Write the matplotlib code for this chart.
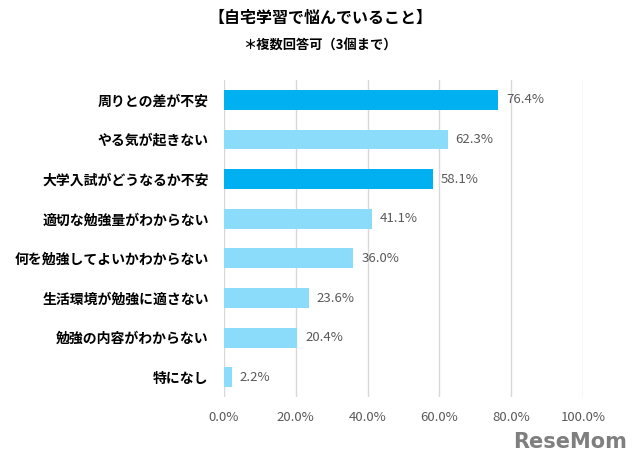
import matplotlib.pyplot as plt

plt.rcParams['font.family'] = ['Noto Sans CJK JP', 'DejaVu Sans']

categories = ['周りとの差が不安', 'やる気が起きない', '大学入試がどうなるか不安',
              '適切な勉強量がわからない', '何を勉強してよいかわからない',
              '生活環境が勉強に適さない', '勉強の内容がわからない', '特になし']
values = [76.4, 62.3, 58.1, 41.1, 36.0, 23.6, 20.4, 2.2]
highlight = [True, False, True, False, False, False, False, False]
xticks = [0, 20, 40, 60, 80, 100]

dark = '#00B0F0'
light = '#8ADCFA'

fig = plt.figure(figsize=(6.4, 4.65), dpi=100)
ax = fig.add_axes([0.35, 0.146, 0.561, 0.682])

ypos = list(range(len(categories)))
colors = [dark if h else light for h in highlight]
ax.barh(ypos, values, height=0.5, color=colors, zorder=3)
for y, v in zip(ypos, values):
    ax.text(v + 2.2, y, f'{v:.1f}%', va='center', ha='left', fontsize=9.5, color='#595959')

ax.set_xlim(0, 100)
ax.set_ylim(len(categories) - 0.5, -0.5)
ax.set_xticks(xticks)
ax.set_xticklabels([f'{t:.1f}%' for t in xticks], fontsize=9.5, color='#595959')
ax.set_yticks(ypos)
ax.set_yticklabels(categories, fontsize=10, fontweight='bold', color='#000000')
ax.tick_params(axis='both', length=0)
ax.tick_params(axis='x', pad=10)
ax.tick_params(axis='y', pad=11)
ax.grid(axis='x', color='#D9D9D9', linewidth=1, zorder=0)
for s in ax.spines.values():
    s.set_visible(False)

fig.text(0.5, 1 - 18 / 465, '【自宅学習で悩んでいること】', ha='center', va='center',
         fontsize=11.5, fontweight='bold')
fig.text(0.5, 1 - 45 / 465, '＊複数回答可（3個まで）', ha='center', va='center',
         fontsize=9.5, fontweight='bold')
fig.text(0.98, 1 - 442 / 465, 'ReseMom', ha='right', va='center',
         fontsize=15, fontweight='bold', color='#7F7F7F', family=['DejaVu Sans'])

fig.savefig('out.png', dpi=100)
